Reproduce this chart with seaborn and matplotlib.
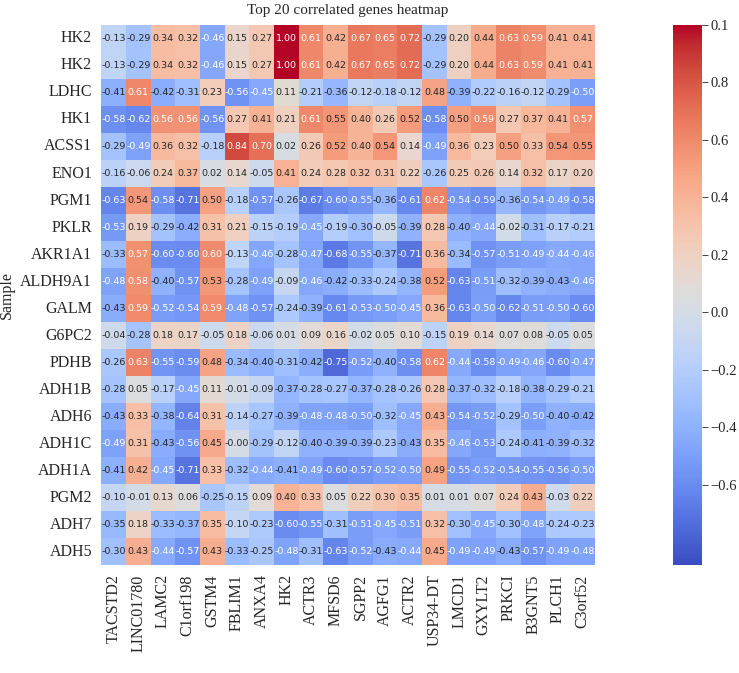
import numpy as np
import pandas as pd
import matplotlib
matplotlib.use("Agg")
import matplotlib.pyplot as plt
import seaborn as sns

# genes on the x axis and samples on the y axis
genes = ["TACSTD2", "LINC01780", "LAMC2", "C1orf198", "GSTM4", "FBLIM1", "ANXA4", "HK2",
         "ACTR3", "MFSD6", "SGPP2", "AGFG1", "ACTR2", "USP34-DT", "LMCD1", "GXYLT2",
         "PRKCI", "B3GNT5", "PLCH1", "C3orf52"]
samples = ["HK2", "HK2", "LDHC", "HK1", "ACSS1", "ENO1", "PGM1", "PKLR", "AKR1A1", "ALDH9A1",
           "GALM", "G6PC2", "PDHB", "ADH1B", "ADH6", "ADH1C", "ADH1A", "PGM2", "ADH7", "ADH5"]

hk2 = [-0.13, -0.29, 0.34, 0.32, -0.46, 0.15, 0.27, 1.00, 0.61, 0.42, 0.67, 0.65, 0.72, -0.29, 0.20, 0.44, 0.63, 0.59, 0.41, 0.41]
ldhc = [-0.41, 0.61, -0.42, -0.31, 0.23, -0.56, -0.45, 0.11, -0.21, -0.36, -0.12, -0.18, -0.12, 0.48, -0.39, -0.22, -0.16, -0.12, -0.29, -0.50]
hk1 = [-0.58, -0.62, 0.56, 0.56, -0.56, 0.27, 0.41, 0.21, 0.61, 0.55, 0.40, 0.26, 0.52, -0.58, 0.50, 0.59, 0.27, 0.37, 0.41, 0.57]
acss1 = [-0.29, -0.49, 0.36, 0.32, -0.18, 0.84, 0.70, 0.02, 0.26, 0.52, 0.40, 0.54, 0.14, -0.49, 0.36, 0.23, 0.50, 0.33, 0.54, 0.55]
eno1 = [-0.16, -0.06, 0.24, 0.37, 0.02, 0.14, -0.05, 0.41, 0.24, 0.28, 0.32, 0.31, 0.22, -0.26, 0.25, 0.26, 0.14, 0.32, 0.17, 0.20]
pgm1 = [-0.63, 0.54, -0.58, -0.71, 0.50, -0.18, -0.57, -0.26, -0.67, -0.60, -0.55, -0.36, -0.61, 0.62, -0.54, -0.59, -0.36, -0.54, -0.49, -0.58]
pklr = [-0.53, 0.19, -0.29, -0.42, 0.31, 0.21, -0.15, -0.19, -0.45, -0.19, -0.30, -0.05, -0.39, 0.28, -0.40, -0.44, -0.02, -0.31, -0.17, -0.21]
akr1a1 = [-0.33, 0.57, -0.60, -0.60, 0.60, -0.13, -0.46, -0.28, -0.47, -0.68, -0.55, -0.37, -0.71, 0.36, -0.34, -0.57, -0.51, -0.49, -0.44, -0.46]
aldh9a1 = [-0.48, 0.58, -0.40, -0.57, 0.53, -0.28, -0.49, -0.09, -0.46, -0.42, -0.33, -0.24, -0.38, 0.52, -0.63, -0.51, -0.32, -0.39, -0.43, -0.46]
galm = [-0.43, 0.59, -0.52, -0.54, 0.59, -0.48, -0.57, -0.24, -0.39, -0.61, -0.53, -0.50, -0.45, 0.36, -0.63, -0.50, -0.62, -0.51, -0.50, -0.60]
g6pc2 = [-0.04, -0.28, 0.18, 0.17, -0.05, 0.18, -0.06, 0.01, 0.09, 0.16, -0.02, 0.05, 0.10, -0.15, 0.19, 0.14, 0.07, 0.08, -0.05, 0.05]
pdhb = [-0.26, 0.63, -0.55, -0.59, 0.48, -0.34, -0.40, -0.31, -0.42, -0.75, -0.52, -0.40, -0.58, 0.62, -0.44, -0.58, -0.49, -0.46, -0.60, -0.47]
adh1b = [-0.28, 0.05, -0.17, -0.45, 0.11, -0.01, -0.09, -0.37, -0.28, -0.27, -0.37, -0.28, -0.26, 0.28, -0.37, -0.32, -0.18, -0.38, -0.29, -0.21]
adh6 = [-0.43, 0.33, -0.38, -0.64, 0.31, -0.14, -0.27, -0.39, -0.48, -0.48, -0.50, -0.32, -0.45, 0.43, -0.54, -0.52, -0.29, -0.50, -0.40, -0.42]
adh1c = [-0.49, 0.31, -0.43, -0.56, 0.45, -0.00, -0.29, -0.12, -0.40, -0.39, -0.39, -0.23, -0.43, 0.35, -0.46, -0.53, -0.24, -0.41, -0.39, -0.32]
adh1a = [-0.41, 0.42, -0.45, -0.71, 0.33, -0.32, -0.44, -0.41, -0.49, -0.60, -0.57, -0.52, -0.50, 0.49, -0.55, -0.52, -0.54, -0.55, -0.56, -0.50]
pgm2 = [-0.10, -0.01, 0.13, 0.06, -0.25, -0.15, 0.09, 0.40, 0.33, 0.05, 0.22, 0.30, 0.35, 0.01, 0.01, 0.07, 0.24, 0.43, -0.03, 0.22]
adh7 = [-0.35, 0.18, -0.33, -0.37, 0.35, -0.10, -0.23, -0.60, -0.55, -0.31, -0.51, -0.45, -0.51, 0.32, -0.30, -0.45, -0.30, -0.48, -0.24, -0.23]
adh5 = [-0.30, 0.43, -0.44, -0.57, 0.43, -0.33, -0.25, -0.48, -0.31, -0.63, -0.52, -0.43, -0.44, 0.45, -0.49, -0.49, -0.43, -0.57, -0.49, -0.48]

rows = [hk2, hk2, ldhc, hk1, acss1, eno1, pgm1, pklr, akr1a1, aldh9a1, galm, g6pc2,
        pdhb, adh1b, adh6, adh1c, adh1a, pgm2, adh7, adh5]
df = pd.DataFrame(rows, index=samples, columns=genes)

cbar_ticks = [1.0, 0.8, 0.6, 0.4, 0.2, 0.0, -0.2, -0.4, -0.6]
cbar_labels = ["0.1", "0.8", "0.6", "0.4", "0.2", "0.0", "\u22120.2", "\u22120.4", "\u22120.6"]

sns.set_style("white")
plt.rcParams["font.family"] = ["Liberation Serif", "DejaVu Serif"]

fig = plt.figure(figsize=(7.39, 6.73), dpi=100)
ax = fig.add_axes([0.137, 0.160, 0.668, 0.803])
cax = fig.add_axes([0.911, 0.160, 0.039, 0.803])

sns.heatmap(df, ax=ax, cbar_ax=cax, cmap="coolwarm", vmin=-0.88, vmax=1.0,
            annot=True, fmt=".2f",
            annot_kws={"fontsize": 6.8, "family": "DejaVu Sans"})
ax.set_aspect("auto")
ax.set_position([0.137, 0.160, 0.668, 0.803])

ax.set_title("Top 20 correlated genes heatmap", fontsize=11, pad=8)
ax.set_ylabel("Sample", fontsize=11.5)
ax.set_xlabel("")
ax.set_xticklabels(genes, rotation=90, fontsize=11.5)
ax.set_yticklabels(samples, rotation=0, fontsize=11.5)
ax.tick_params(axis="both", length=3, width=0.6)

cax.set_yticks(cbar_ticks)
cax.set_yticklabels(cbar_labels, fontsize=10.5)
cax.tick_params(length=4, width=0.6, pad=2)

fig.savefig("out.png", dpi=100)
